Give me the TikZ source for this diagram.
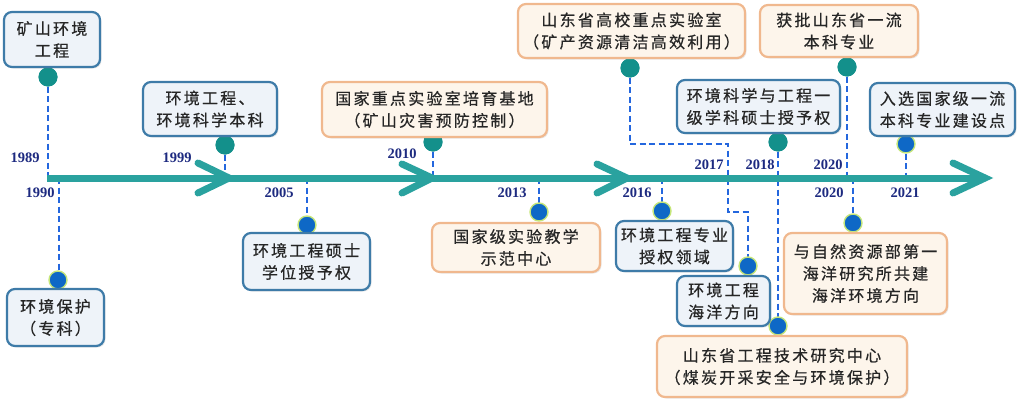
\documentclass[tikz,border=0pt]{standalone}
\usepackage{fontspec}
\usetikzlibrary{shadows}
\newfontfamily\cjk{Noto Sans CJK SC}[LetterSpace=14, FakeBold=0.6]
\newfontfamily\yrfont{Liberation Serif}
\definecolor{axisteal}{HTML}{2AA29F}
\definecolor{dotteal}{HTML}{13908B}
\definecolor{dotblue}{HTML}{0E68C6}
\definecolor{dotring}{HTML}{C6E67A}
\definecolor{dashblue}{HTML}{2467DE}
\definecolor{bbord}{HTML}{3E7BA8}
\definecolor{bfill}{HTML}{EEF3F9}
\definecolor{obord}{HTML}{F0B88E}
\definecolor{ofill}{HTML}{FDF5EB}
\definecolor{yearnavy}{HTML}{1D2A80}
\tikzset{
  box/.style={rounded corners=8pt, line width=2.2pt, inner sep=0pt, align=center,
    font=\cjk\fontsize{16}{22}\selectfont, text=black!85,
    drop shadow={opacity=0.18, shadow xshift=1.5pt, shadow yshift=-1.5pt}},
  bluebox/.style={box, draw=bbord, fill=bfill},
  orangebox/.style={box, draw=obord, fill=ofill},
  tdot/.style={circle, fill=dotteal, inner sep=0pt, minimum size=19pt},
  bdot/.style={circle, fill=dotblue, draw=dotring, line width=1.4pt, inner sep=0pt, minimum size=18pt},
  conn/.style={dashblue, line width=2.8pt, dash pattern=on 6pt off 3.5pt},
  yr/.style={font=\yrfont\bfseries\fontsize{14.5}{15}\selectfont, text=yearnavy, inner sep=0pt},
  axisline/.style={axisteal, line width=7pt},
  chev/.style={axisteal, line width=7pt, line cap=round, line join=miter}
}
\begin{document}
\begin{tikzpicture}[x=1pt, y=-1pt]
\useasboundingbox (0,0) rectangle (1024,404);
\coordinate (ax) at (0,178);
\coordinate (axL) at (47,178);
\coordinate (axR) at (982,178);
% dots
\node[tdot] (tc1) at (48,77) {};
\node[tdot] (tc2) at (225,145) {};
\node[tdot] (tc3) at (433,142) {};
\node[tdot] (tc4) at (630,68) {};
\node[tdot] (tc5) at (778,142) {};
\node[tdot] (tc6) at (847,67) {};
% dashed connectors
\coordinate (k1) at (630,144);
\coordinate (k2) at (728,144);
\coordinate (k3) at (728,212);
\coordinate (k4) at (748,212);
\draw[conn] (tc1) -- (tc1 |- ax);
\draw[conn] (59,178) coordinate (c1990) -- (59,280);
\draw[conn] (tc2) -- (tc2 |- ax);
\draw[conn] (307,178) coordinate (c2005) -- (307,225);
\draw[conn] (tc3) -- (tc3 |- ax);
\draw[conn] (539,178) coordinate (c2013) -- (539,212);
\draw[conn] (662,178) coordinate (c2016) -- (662,211);
\draw[conn] (tc4) -- (k1) -- (k2) -- (k3) -- (k4) -- (748,266);
\draw[conn] (tc5) -- (778,326);
\draw[conn] (tc6) -- (tc6 |- ax);
\draw[conn] (853,178) coordinate (c2020) -- (853,223);
\draw[conn] (906,144) -- (906,178);
% axis
\draw[axisline] (axL) -- (axR);
\draw[chev] (198,163) -- (229,178) -- (198,193);
\draw[chev] (402,164) -- (432,178) -- (402,193);
\draw[chev] (597,164) -- (627,178) -- (597,193);
\draw[chev] (953,163) -- (985,178) -- (953,193);
% redraw dots on top
\node[tdot] at (tc1) {};
\node[tdot] at (tc2) {};
\node[tdot] at (tc3) {};
\node[tdot] at (tc4) {};
\node[tdot] at (tc5) {};
\node[tdot] at (tc6) {};
\node[bdot] (bc1) at (58,280) {};
\node[bdot] (bc2) at (307,225) {};
\node[bdot] (bc3) at (539,212) {};
\node[bdot] (bc4) at (662,211) {};
\node[bdot] (bc5) at (748,266) {};
\node[bdot] (bc6) at (778,326) {};
\node[bdot] (bc7) at (853,223) {};
\node[bdot] (bc8) at (906,144) {};
% years
\node[yr] (y1989) at (25,158) {1989};
\node[yr] (y1990) at (40,193) {1990};
\node[yr] (y1999) at (177,158) {1999};
\node[yr] (y2005) at (279,193) {2005};
\node[yr] (y2010) at (402,154) {2010};
\node[yr] (y2013) at (512,193) {2013};
\node[yr] (y2016) at (637,193) {2016};
\node[yr] (y2017) at (709,165) {2017};
\node[yr] (y2018) at (760,165) {2018};
\node[yr] (y2020a) at (828,165) {2020};
\node[yr] (y2020b) at (829,193) {2020};
\node[yr] (y2021) at (905,193) {2021};
% blue boxes
\node[bluebox, minimum width=96pt, minimum height=55pt] (b1) at (52,39.5) {矿山环境\\工程};
\node[bluebox, minimum width=134pt, minimum height=54pt] (b2) at (210,109) {环境工程、\\环境科学本科};
\node[bluebox, minimum width=97pt, minimum height=57pt] (b3) at (55.5,317.5) {环境保护\\（专科）};
\node[bluebox, minimum width=127pt, minimum height=57pt] (b4) at (306.5,261.5) {环境工程硕士\\学位授予权};
\node[bluebox, minimum width=117pt, minimum height=50pt] (b5) at (674.5,246) {环境工程专业\\授权领域};
\node[bluebox, minimum width=93pt, minimum height=50pt] (b6) at (723.5,301) {环境工程\\海洋方向};
\node[bluebox, minimum width=163pt, minimum height=53pt] (b7) at (758.5,106.5) {环境科学与工程一\\级学科硕士授予权};
\node[bluebox, minimum width=145pt, minimum height=53pt] (b8) at (942.5,109.5) {入选国家级一流\\本科专业建设点};
% orange boxes
\node[orangebox, minimum width=225pt, minimum height=55pt] (o1) at (434.5,109.5) {国家重点实验室培育基地\\（矿山灾害预防控制）};
\node[orangebox, minimum width=227pt, minimum height=54pt] (o2) at (631.5,31) {山东省高校重点实验室\\（矿产资源清洁高效利用）};
\node[orangebox, minimum width=158pt, minimum height=52pt] (o3) at (839,31) {获批山东省一流\\本科专业};
\node[orangebox, minimum width=168pt, minimum height=49pt] (o4) at (516,247.5) {国家级实验教学\\示范中心};
\node[orangebox, minimum width=163pt, minimum height=81pt] (o5) at (865.5,273.5) {与自然资源部第一\\海洋研究所共建\\海洋环境方向};
\node[orangebox, minimum width=250pt, minimum height=61pt] (o6) at (782,366.5) {山东省工程技术研究中心\\（煤炭开采安全与环境保护）};
\end{tikzpicture}
\end{document}
